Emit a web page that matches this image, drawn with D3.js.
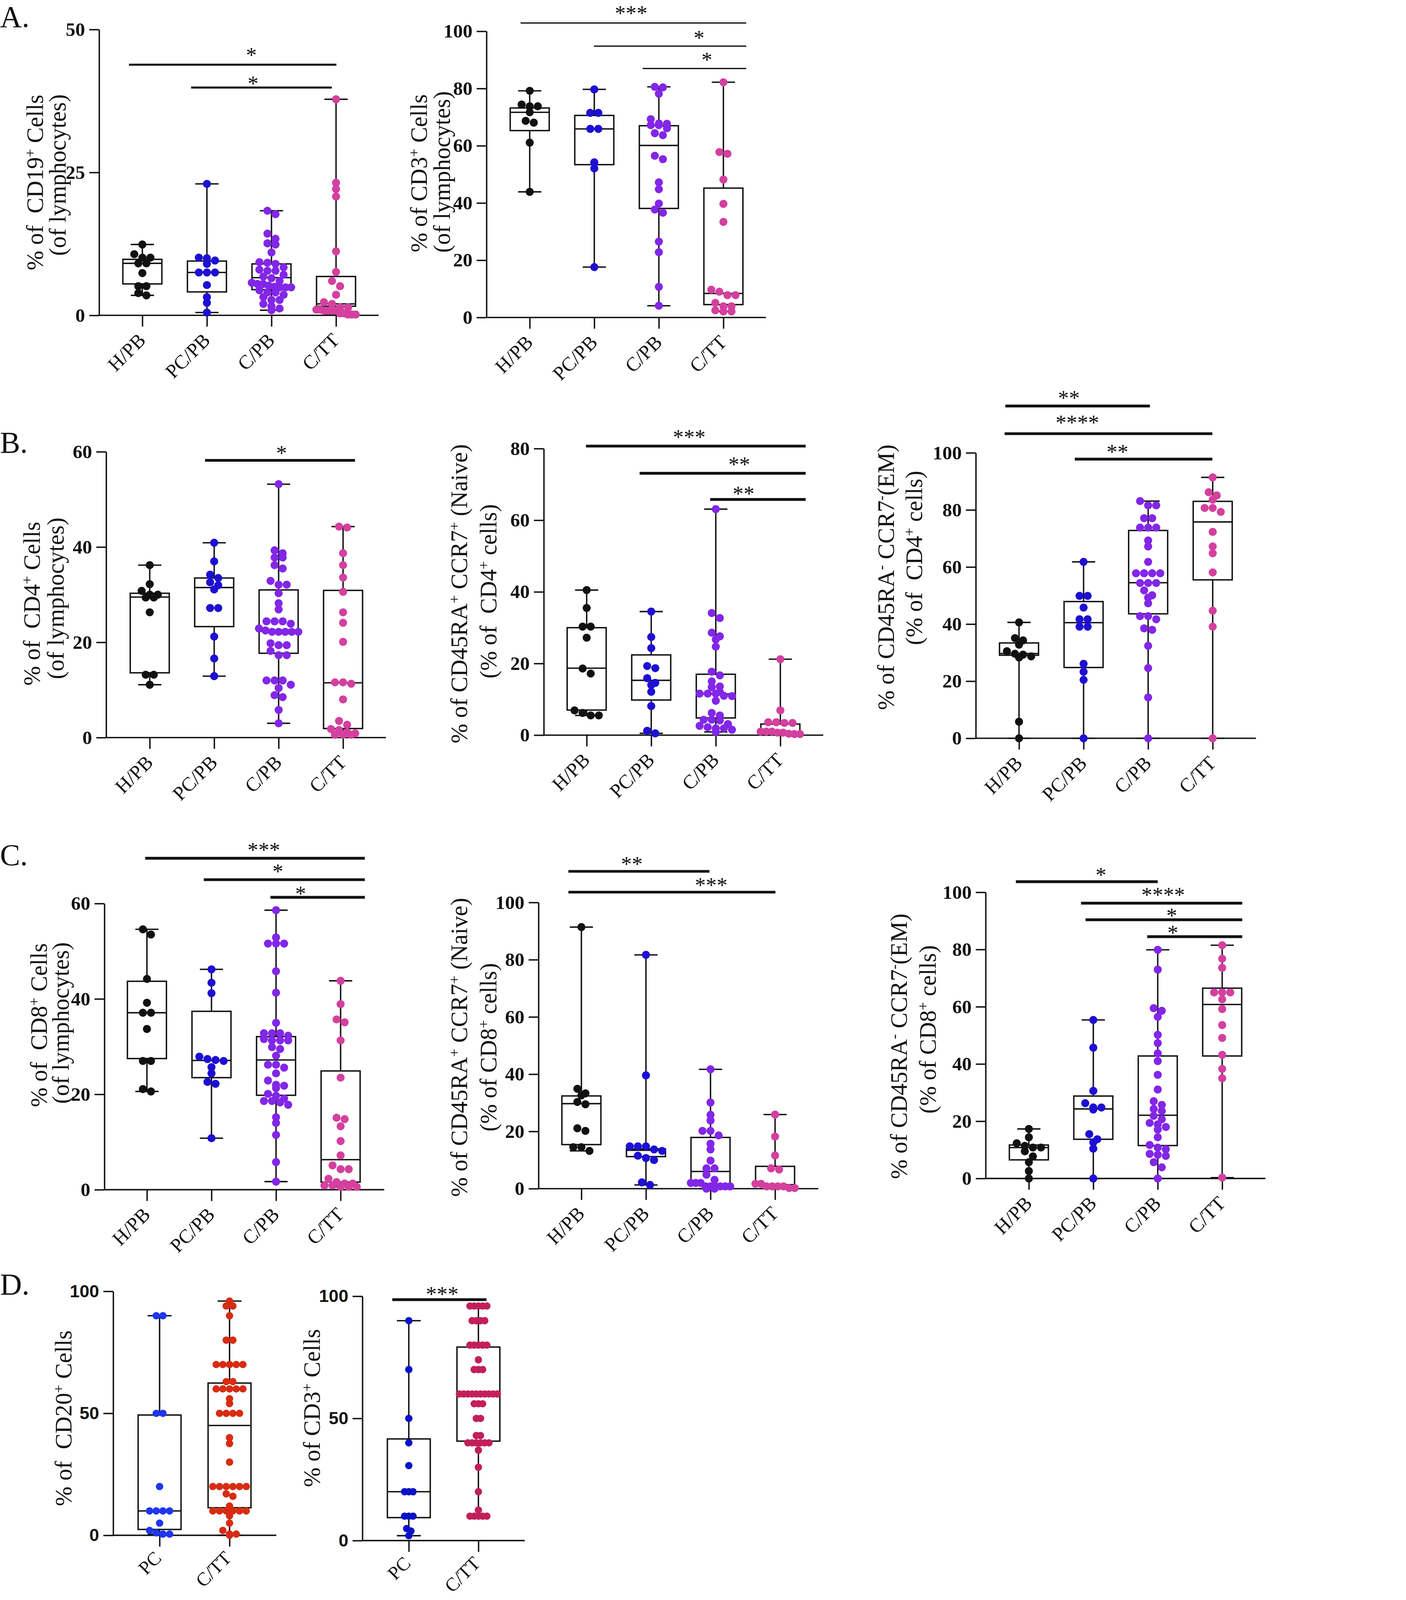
<!DOCTYPE html>
<html>
<head>
<meta charset="UTF-8">
<title>Lymphocyte subsets</title>
<script src="https://d3js.org/d3.v7.min.js"></script>
<style>
  html, body { margin: 0; padding: 0; background: #fff; overflow: hidden; }
  svg { display: block; background: #fff; }
  text { font-family: "Liberation Serif", "Times New Roman", serif; fill: #111; }
  .pre { white-space: pre; }
</style>
</head>
<body>
<svg id="fig"></svg>
<script>
// categories and ticks
const groups4 = ["H/PB", "PC/PB", "C/PB", "C/TT"];
const groups2 = ["PC", "C/TT"];
const ticks50 = [0, 25, 50];
const ticks60 = [0, 20, 40, 60];
const ticks80 = [0, 20, 40, 60, 80];
const ticks100 = [0, 20, 40, 60, 80, 100];
const ticks100D = [0, 50, 100];

// A: CD19+ (% of lymphocytes)
const cd19_HPB = [12.4, 10.7, 10.1, 10.1, 9.1, 9.1, 7.4, 5.1, 5.1, 3.9, 3.5];
const cd19_PCPB = [23.0, 10.1, 10.0, 9.6, 9.0, 7.5, 7.5, 7.5, 5.3, 3.2, 2.2, 0.5];
const cd19_CPB = [18.3, 17.7, 14.3, 13.4, 12.6, 12.4, 11.0, 9.3, 9.2, 9.0, 8.4, 8.0, 7.8, 7.8, 7.1, 6.8, 6.5, 6.0, 5.7, 5.5, 5.5, 5.2, 5.0, 4.9, 4.9, 4.9, 4.4, 4.0, 4.0, 3.6, 3.2, 2.7, 2.7, 2.0, 1.6, 1.2, 0.9];
const cd19_CTT = [37.8, 23.2, 22.1, 20.8, 11.2, 7.6, 6.0, 5.1, 3.6, 2.3, 2.0, 1.4, 1.4, 1.0, 1.0, 0.8, 0.8, 0.8, 0.8, 0.35, 0.35, 0.15, 0.15, 0.15];
const cd19_box = [[5.5, 9.1, 9.8], [4.1, 7.5, 9.5], [4.5, 6.6, 9.0], [1.6, 2.0, 6.8]];
const cd19_sig = [[0, 3, "*"], [1, 3, "*"]];

// A: CD3+ (% of lymphocytes)
const cd3_HPB = [79.2, 74.4, 73.8, 73.8, 71.7, 68.7, 68.1, 61.1, 43.9];
const cd3_PCPB = [79.7, 71.5, 71.5, 65.9, 65.9, 54.2, 52.1, 17.6];
const cd3_CPB = [80.6, 80.4, 78.2, 69.3, 67.8, 67.7, 67.2, 67.2, 66.1, 64.4, 63.7, 56.5, 55.3, 47.2, 44.8, 39.8, 37.7, 36.6, 26.5, 22.8, 10.7, 4.1];
const cd3_CTT = [82.2, 57.8, 57.2, 48.2, 39.7, 33.4, 9.7, 9.0, 7.8, 7.8, 5.1, 3.9, 3.9, 2.5, 2.1, 2.1];
const cd3_box = [[65.3, 71.7, 73.2], [53.4, 65.9, 70.6], [38.1, 60.1, 67.0], [4.5, 8.4, 45.2]];
const cd3_sig = [[0, 3, "***"], [1, 3, "*"], [2, 3, "*"]];

// B: CD4+ (% of lymphocytes)
const cd4_HPB = [36.2, 32.2, 30.8, 30.0, 30.0, 29.4, 29.4, 26.3, 13.2, 13.2, 11.1];
const cd4_PCPB = [40.9, 37.0, 34.2, 33.5, 32.6, 32.0, 31.1, 27.2, 27.2, 21.2, 16.6, 12.9];
const cd4_CPB = [53.2, 39.3, 38.7, 37.8, 37.8, 36.2, 35.5, 32.9, 32.1, 32.1, 30.3, 28.2, 26.9, 24.4, 24.4, 24.4, 23.9, 22.9, 22.5, 22.2, 22.2, 22.2, 22.2, 22.2, 19.8, 19.4, 19.4, 18.2, 17.3, 17.3, 12.0, 12.0, 12.0, 11.1, 10.4, 8.9, 8.5, 5.8, 3.0];
const cd4_CTT = [44.3, 44.1, 38.7, 36.2, 33.6, 30.6, 26.3, 24.1, 20.1, 11.6, 11.6, 11.3, 8.0, 3.5, 2.7, 1.8, 1.6, 1.1, 0.9, 0.6, 0.6, 0.6];
const cd4_box = [[13.6, 29.5, 30.3], [23.3, 31.5, 33.5], [17.7, 22.3, 31.0], [1.9, 11.5, 30.9]];
const cd4_sig = [[1, 3, "*"]];

// B: CD45RA+ CCR7+ naive (% of CD4+)
const cd4n_HPB = [40.5, 35.5, 30.3, 30.3, 27.2, 18.6, 17.2, 6.9, 6.2, 5.5, 5.5];
const cd4n_PCPB = [34.5, 27.4, 24.3, 19.3, 18.7, 15.9, 14.6, 14.0, 12.1, 8.1, 1.2, 0.5];
const cd4n_CPB = [63.1, 34.1, 32.7, 28.6, 27.6, 26.7, 24.7, 17.7, 16.7, 15.0, 13.6, 13.4, 12.1, 11.6, 11.6, 11.6, 11.0, 10.9, 9.6, 6.2, 5.5, 4.3, 4.3, 4.1, 3.1, 2.6, 2.2, 1.9, 1.9, 1.5, 0.9];
const cd4n_CTT = [21.2, 6.9, 3.6, 3.6, 3.4, 3.4, 1.0, 1.0, 1.0, 0.7, 0.7, 0.4, 0.3, 0.3];
const cd4n_box = [[7.0, 18.7, 30.0], [9.8, 15.3, 22.4], [4.8, 11.5, 17.0], [0.5, 0.9, 3.1]];
const cd4n_sig = [[0, 3, "***"], [1, 3, "**"], [2, 3, "**"]];

// B: CD45RA- CCR7- EM (% of CD4+)
const cd4em_HPB = [40.6, 35.1, 34.3, 32.8, 30.5, 29.6, 29.3, 28.7, 28.3, 5.8, 0];
const cd4em_PCPB = [61.8, 49.9, 49.9, 45.8, 41.7, 41.7, 39.1, 39.1, 26.1, 23.3, 20.5, 0];
const cd4em_CPB = [83.1, 81.6, 81.6, 77.1, 77.1, 73.8, 73.8, 73.8, 69.3, 67.2, 61.8, 57.8, 57.8, 57.8, 57.8, 54.4, 54.4, 54.4, 51.8, 50.1, 49.3, 47.3, 42.8, 42.8, 41.7, 38.5, 38.0, 32.4, 24.6, 14.3, 0];
const cd4em_CTT = [91.4, 86.2, 85.1, 83.6, 80.7, 80.7, 79.3, 72.3, 67.2, 64.8, 58.1, 44.7, 39.1, 0];
const cd4em_box = [[29.1, 29.7, 33.4], [24.8, 40.5, 47.9], [43.6, 54.5, 72.8], [55.5, 75.8, 83.0]];
const cd4em_sig = [[0, 2, "**"], [0, 3, "****"], [1, 3, "**"]];

// C: CD8+ (% of lymphocytes)
const cd8_HPB = [54.6, 53.5, 44.2, 39.2, 37.1, 37.1, 33.7, 27.0, 27.0, 21.1, 20.6];
const cd8_PCPB = [46.2, 43.4, 41.2, 27.9, 27.4, 27.2, 27.0, 25.7, 24.4, 22.6, 22.2, 10.8];
const cd8_CPB = [58.6, 52.9, 51.6, 51.6, 51.6, 45.8, 41.3, 35.0, 32.8, 32.8, 32.8, 32.3, 31.6, 31.3, 31.3, 31.3, 29.9, 29.5, 28.1, 26.2, 26.2, 25.6, 24.4, 22.9, 22.0, 21.8, 21.3, 20.1, 19.7, 19.1, 18.6, 18.6, 18.3, 17.8, 15.2, 14.0, 11.5, 5.8, 1.7];
const cd8_CTT = [43.8, 38.9, 35.7, 35.1, 31.3, 23.5, 15.1, 14.8, 13.3, 10.2, 7.2, 5.1, 4.3, 4.3, 2.3, 1.6, 1.3, 1.3, 0.9, 0.9, 0.6, 0.6, 0.6];
const cd8_box = [[27.5, 37.1, 43.7], [23.5, 27.1, 37.4], [19.8, 27.2, 32.1], [1.6, 6.3, 24.9]];
const cd8_sig = [[0, 3, "***"], [1, 3, "*"], [2, 3, "*"]];

// C: CD45RA+ CCR7+ naive (% of CD8+)
const cd8n_HPB = [91.4, 34.9, 33.3, 32.6, 30.3, 29.5, 21.1, 20.2, 14.5, 14.5, 13.2];
const cd8n_PCPB = [81.7, 39.6, 14.8, 14.8, 14.8, 13.7, 13.2, 11.5, 10.7, 10.0, 2.2, 1.3];
const cd8n_CPB = [41.7, 30.1, 25.8, 23.8, 20.2, 20.2, 18.6, 15.7, 13.7, 9.8, 7.1, 7.1, 4.9, 3.1, 2.0, 2.0, 2.0, 0.8, 0.8, 0.8, 0.8, 0.8, 0.8, 0, 0];
const cd8n_CTT = [25.9, 18.2, 11.6, 7.1, 6.7, 1.7, 1.7, 0.8, 0.8, 0.8, 0.8, 0.2, 0.2];
const cd8n_box = [[15.4, 29.7, 32.4], [11.2, 13.4, 13.9], [1.4, 6.0, 17.9], [1.1, 1.4, 7.8]];
const cd8n_sig = [[0, 2, "**"], [0, 3, "***"]];

// C: CD45RA- CCR7- EM (% of CD8+)
const cd8em_HPB = [17.3, 14.4, 12.3, 11.4, 10.8, 10.8, 9.5, 7.7, 5.7, 2.6, 0];
const cd8em_PCPB = [55.4, 45.7, 30.6, 26.3, 24.8, 24.8, 24.1, 15.5, 13.7, 12.6, 10.4, 0];
const cd8em_CPB = [79.9, 73.0, 59.5, 58.6, 56.5, 50.2, 47.3, 43.7, 41.0, 36.2, 31.1, 27.0, 25.7, 24.3, 23.6, 21.9, 20.7, 19.4, 18.9, 18.0, 17.1, 14.4, 11.7, 10.8, 10.2, 8.6, 8.3, 7.9, 5.7, 3.9, 0];
const cd8em_CTT = [81.5, 76.8, 73.6, 65.0, 65.0, 65.0, 62.6, 59.2, 53.6, 49.1, 43.2, 38.3, 35.0, 0.3];
const cd8em_box = [[6.5, 10.8, 11.7], [13.7, 24.3, 28.8], [11.5, 22.1, 42.8], [42.8, 60.8, 66.5]];
const cd8em_sig = [[0, 2, "*"], [1, 3, "****"], [1, 3, "*"], [2, 3, "*"]];

// D: CD20+ and CD3+ cells
const cd20_PC = [90, 90, 50, 50, 20, 10, 10, 10, 10, 5, 2, 1, 0.5, 0.5];
const cd20_CTT = [96, 94, 94, 90, 80, 80, 70, 70, 70, 70, 70, 63, 63, 60, 60, 60, 60, 60, 56, 54, 50, 50, 50, 50, 40, 37.6, 30, 20, 20, 20, 20, 20, 20, 17, 16, 12, 10, 10, 10, 10, 10, 10, 8, 5, 2, 0.5, 0.5, 0];
const cd20_box = [[2.4, 10, 49.3], [11.3, 45, 62.4]];
const cd3d_PC = [90, 70, 50, 40, 30.7, 20, 20, 20, 10, 10, 10, 4.9, 3.9, 2];
const cd3d_CTT = [96, 96, 96, 96, 96, 90, 90, 90, 90, 80, 80, 80, 80, 80, 74, 70, 70, 70, 60, 60, 60, 60, 60, 60, 60, 60, 60, 60, 56, 56, 56, 50, 50, 43, 43, 40, 40, 40, 40, 40, 40, 37, 30, 20, 12.5, 10, 10, 10, 10, 10];
const cd3d_box = [[9.4, 20, 41.6], [40.7, 60, 79.2]];
const cd3d_sig = [[0, 1, "***"]];

// colours
const col4 = ["#111111", "#1d0fd3", "#8226e8", "#d4409e"];
const colD1 = ["#1f36f2", "#d72c12"];
const colD2 = ["#0a12c6", "#c21f5b"];

const base = { r: 11.5, spacing: 23, maxW: 112, tol: 16, boxW: 111, capW: 66, tickFont: "Liberation Serif", tickSize: 55, lab: [12, 74], labSize: 56 };
const baseD = { r: 10.5, spacing: 19, maxW: 112, tol: 12, boxW: 122, capW: 68, tickFont: "Liberation Sans", tickSize: 50, lab: [8, 68], labSize: 54 };

const panels = [
  { cats: groups4, values: [cd19_HPB, cd19_PCPB, cd19_CPB, cd19_CTT], box: cd19_box, sig: cd19_sig, yMax: 50, ticks: ticks50, colors: col4,
    title: [[["% of  CD19"], ["+", 1], [" Cells"]], [["(of lymphocytes)"]]],
    L: { ...base, x0: 282, x1: 1077, yTop: 84, yBot: 897, c0: 405, c1: 956, sigW: 6,
         sigL: [[43.85, 46.1, -38, 1, 0.59], [39.85, 41.1, -45, -12, 0.44]],
         tpos: [[99, 519], [163, 498]] } },
  { cats: groups4, values: [cd3_HPB, cd3_PCPB, cd3_CPB, cd3_CTT], box: cd3_box, sig: cd3_sig, yMax: 100, ticks: ticks100, colors: col4,
    title: [[["% of CD3"], ["+", 1], [" Cells"]], [["(of lymphocytes)"]]],
    L: { ...base, x0: 1384, x1: 2179, yTop: 89, yBot: 903, c0: 1507, c1: 2058, sigW: 3.5,
         sigL: [[102.9, 107.4, -26, 65, 0.49], [94.8, 98.8, -1, 65, 0.69], [87.0, 91.2, -46, 65, 0.62]],
         tpos: [[1191, 493], [1257, 489]] } },
  { cats: groups4, values: [cd4_HPB, cd4_PCPB, cd4_CPB, cd4_CTT], box: cd4_box, sig: cd4_sig, yMax: 60, ticks: ticks60, colors: col4,
    title: [[["% of  CD4"], ["+", 1], [" Cells"]], [["(of lymphocytes)"]]],
    L: { ...base, x0: 302, x1: 1098, yTop: 1285, yBot: 2098, c0: 426, c1: 976, sigW: 8,
         sigL: [[58.2, 60.4, -26, 34, 0.51]],
         tpos: [[90, 1717], [158, 1702]] } },
  { cats: groups4, values: [cd4n_HPB, cd4n_PCPB, cd4n_CPB, cd4n_CTT], box: cd4n_box, sig: cd4n_sig, yMax: 80, ticks: ticks80, colors: col4,
    title: [[["% of CD45RA"], ["+", 1], [" CCR7"], ["+", 1], [" (Naive)"]], [["(% of  CD4"], ["+", 1], [" cells)"]]],
    L: { ...base, x0: 1547, x1: 2342, yTop: 1276, yBot: 2091, c0: 1669, c1: 2220, sigW: 8,
         sigL: [[80.7, 84.1, -2, 72, 0.47], [73.1, 76.5, -33, 72, 0.6], [65.8, 68.3, -16, 72, 0.35]],
         tpos: [[1305, 1689], [1389, 1682]] } },
  { cats: groups4, values: [cd4em_HPB, cd4em_PCPB, cd4em_CPB, cd4em_CTT], box: cd4em_box, sig: cd4em_sig, yMax: 100, ticks: ticks100, colors: col4,
    title: [[["% of CD45RA"], ["-", 1], [" CCR7"], ["-", 1], ["(EM)"]], [["(% of  CD4"], ["+", 1], [" cells)"]]],
    L: { ...base, x0: 2776, x1: 3573, yTop: 1288, yBot: 2100, c0: 2899, c1: 3450, sigW: 8,
         sigL: [[116.4, 120.3, -39, 5, 0.44], [106.7, 111.7, -41, -1, 0.35], [97.8, 101.4, -25, -1, 0.31]],
         tpos: [[2520, 1642], [2600, 1587]] } },
  { cats: groups4, values: [cd8_HPB, cd8_PCPB, cd8_CPB, cd8_CTT], box: cd8_box, sig: cd8_sig, yMax: 60, ticks: ticks60, colors: col4,
    title: [[["% of  CD8"], ["+", 1], [" Cells"]], [["(of lymphocytes)"]]],
    L: { ...base, x0: 297, x1: 1093, yTop: 2570, yBot: 3384, c0: 418, c1: 969, sigW: 8,
         sigL: [[69.5, 71.9, -5, 69, 0.54], [65.0, 67.4, -22, 69, 0.46], [61.3, 62.7, -16, 69, 0.32]],
         tpos: [[110, 2916], [172, 2910]] } },
  { cats: groups4, values: [cd8n_HPB, cd8n_PCPB, cd8n_CPB, cd8n_CTT], box: cd8n_box, sig: cd8n_sig, yMax: 100, ticks: ticks100, colors: col4,
    title: [[["% of CD45RA"], ["+", 1], [" CCR7"], ["+", 1], [" (Naive)"]], [["(% of CD8"], ["+", 1], [" cells)"]]],
    L: { ...base, x0: 1532, x1: 2328, yTop: 2567, yBot: 3381, c0: 1654, c1: 2205, sigW: 7.5,
         sigL: [[110.9, 114.6, -37, -3, 0.45], [103.6, 107.2, -37, 1, 0.69]],
         tpos: [[1305, 2979], [1389, 2979]] } },
  { cats: groups4, values: [cd8em_HPB, cd8em_PCPB, cd8em_CPB, cd8em_CTT], box: cd8em_box, sig: cd8em_sig, yMax: 100, ticks: ticks100, colors: col4,
    title: [[["% of CD45RA"], ["-", 1], [" CCR7"], ["-", 1], ["(EM)"]], [["(% of CD8"], ["+", 1], [" cells)"]]],
    L: { ...base, x0: 2804, x1: 3600, yTop: 2538, yBot: 3352, c0: 2927, c1: 3477, sigW: 8,
         sigL: [[103.7, 107.2, -37, 0, 0.6], [96.2, 100.2, -35, 57, 0.51], [90.4, 92.9, -22, 57, 0.55], [84.5, 87.0, -30, 57, 0.27]],
         tpos: [[2556, 2976], [2639, 2928]] } },
  { cats: groups2, values: [cd20_PC, cd20_CTT], box: cd20_box, sig: [], yMax: 100, ticks: ticks100D, colors: colD1,
    title: [[["% of  CD20"], ["+", 1], [" Cells"]]],
    L: { ...baseD, x0: 322, x1: 786, yTop: 3673, yBot: 4367, c0: 454, c1: 653, sigW: 8, sigL: [],
         tpos: [[180, 4034]] } },
  { cats: groups2, values: [cd3d_PC, cd3d_CTT], box: cd3d_box, sig: cd3d_sig, yMax: 100, ticks: ticks100D, colors: colD2,
    title: [[["% of CD3"], ["+", 1], [" Cells"]]],
    L: { ...baseD, spacing: 12, maxW: 118, x0: 1031, x1: 1493, yTop: 3687, yBot: 4382, c0: 1163, c1: 1361, sigW: 8,
         sigL: [[98.6, 102.2, -47, 23, 0.53]],
         tpos: [[887, 4005]] } }
];

const letters = [["A.", 77], ["B.", 1288], ["C.", 2461], ["D.", 3682]];

// the figure is laid out on a 3600 x 4551 canvas and scaled to fit the window
const W = 3600, H = 4551;
const k = Math.min(1, window.innerWidth / W, window.innerHeight / H);
const svg = d3.select("#fig")
  .attr("viewBox", `0 0 ${W} ${H}`)
  .attr("width", W * k).attr("height", H * k);
const ink = "#111";

// spread points of one group horizontally in rows (GraphPad style scatter)
function swarm(vals, y, L) {
  const pts = vals.map(v => ({ v, py: y(v) })).sort((a, b) => a.py - b.py);
  const rows = [];
  pts.forEach(p => {
    const row = rows[rows.length - 1];
    if (row && p.py - row[0].py < L.tol) row.push(p); else rows.push([p]);
  });
  rows.forEach(row => {
    const n = row.length;
    const s = n > 1 ? Math.min(L.spacing, L.maxW / (n - 1)) : 0;
    row.forEach((p, i) => p.dx = (i - (n - 1) / 2) * s);
  });
  return pts;
}

function rich(sel, parts) {
  parts.forEach(([t, sup]) => {
    const ts = sel.append("tspan").text(t);
    if (sup) ts.attr("baseline-shift", "super").style("font-size", "0.62em");
  });
}

function drawPanel(p) {
  const L = p.L;
  const y = d3.scaleLinear().domain([0, p.yMax]).range([L.yBot, L.yTop]);
  const x = d3.scalePoint().domain(p.cats).range([L.c0, L.c1]);
  const g = svg.append("g");

  // y axis
  const ya = g.append("g").attr("transform", `translate(${L.x0},0)`)
    .call(d3.axisLeft(y).tickValues(p.ticks).tickSize(28).tickSizeOuter(0).tickPadding(12));
  ya.select(".domain").attr("stroke", ink).attr("stroke-width", 4);
  ya.selectAll(".tick line").attr("stroke", ink).attr("stroke-width", 4);
  ya.selectAll(".tick text").attr("fill", ink)
    .style("font-family", L.tickFont).style("font-weight", "bold").style("font-size", L.tickSize + "px");

  // x axis
  g.append("line").attr("x1", L.x0 - 2).attr("x2", L.x1).attr("y1", L.yBot).attr("y2", L.yBot)
    .attr("stroke", ink).attr("stroke-width", 4);
  const xa = g.append("g").attr("transform", `translate(0,${L.yBot})`)
    .call(d3.axisBottom(x).tickSize(32).tickSizeOuter(0));
  xa.select(".domain").remove();
  xa.selectAll(".tick line").attr("stroke", ink).attr("stroke-width", 4);
  xa.selectAll(".tick text").attr("x", 0).attr("y", 0).attr("dy", 0)
    .attr("text-anchor", "end").attr("fill", ink)
    .attr("transform", `translate(${L.lab[0]},${L.lab[1]}) rotate(-45)`)
    .style("font-family", "Liberation Serif").style("font-size", L.labSize + "px");

  // boxes and whiskers
  p.cats.forEach((c, i) => {
    const [q1, med, q3] = p.box[i];
    const [mn, mx] = d3.extent(p.values[i]);
    const cx = x(c);
    const bg = g.append("g").attr("stroke", ink).attr("stroke-width", 4).attr("fill", "none");
    bg.append("line").attr("x1", cx).attr("x2", cx).attr("y1", y(mx)).attr("y2", y(q3));
    bg.append("line").attr("x1", cx).attr("x2", cx).attr("y1", y(q1)).attr("y2", y(mn));
    [mn, mx].forEach(v => bg.append("line")
      .attr("x1", cx - L.capW / 2).attr("x2", cx + L.capW / 2).attr("y1", y(v)).attr("y2", y(v)));
    bg.append("rect").attr("x", cx - L.boxW / 2).attr("width", L.boxW)
      .attr("y", y(q3)).attr("height", y(q1) - y(q3));
    bg.append("line").attr("x1", cx - L.boxW / 2).attr("x2", cx + L.boxW / 2)
      .attr("y1", y(med)).attr("y2", y(med));
  });

  // dots
  p.cats.forEach((c, i) => {
    g.append("g").selectAll("circle")
      .data(swarm(p.values[i], y, L))
      .join("circle")
      .attr("cx", d => x(c) + d.dx)
      .attr("cy", d => d.py)
      .attr("r", L.r)
      .attr("fill", p.colors[i]);
  });

  // significance bars
  p.sig.forEach(([a, b, label], j) => {
    const [lvl, lblLvl, da, db, frac] = L.sigL[j];
    const xa1 = x(p.cats[a]) + da, xb1 = x(p.cats[b]) + db;
    g.append("line").attr("x1", xa1).attr("x2", xb1).attr("y1", y(lvl)).attr("y2", y(lvl))
      .attr("stroke", ink).attr("stroke-width", L.sigW);
    g.append("text").attr("x", xa1 + frac * (xb1 - xa1)).attr("y", y(lblLvl)).attr("dy", "0.47em")
      .attr("text-anchor", "middle").style("font-size", "62px").text(label);
  });

  // y title
  p.title.forEach((parts, j) => {
    const [tx, ty] = L.tpos[j];
    const t = g.append("text").attr("class", "pre").attr("xml:space", "preserve")
      .attr("transform", `translate(${tx},${ty}) rotate(-90)`)
      .attr("text-anchor", "middle").attr("dy", "0.35em")
      .style("font-size", "67px");
    rich(t, parts);
  });
}

panels.forEach(drawPanel);

letters.forEach(([t, yb]) => {
  svg.append("text").attr("x", 0).attr("y", yb).style("font-size", "86px").text(t);
});
</script>
</body>
</html>
